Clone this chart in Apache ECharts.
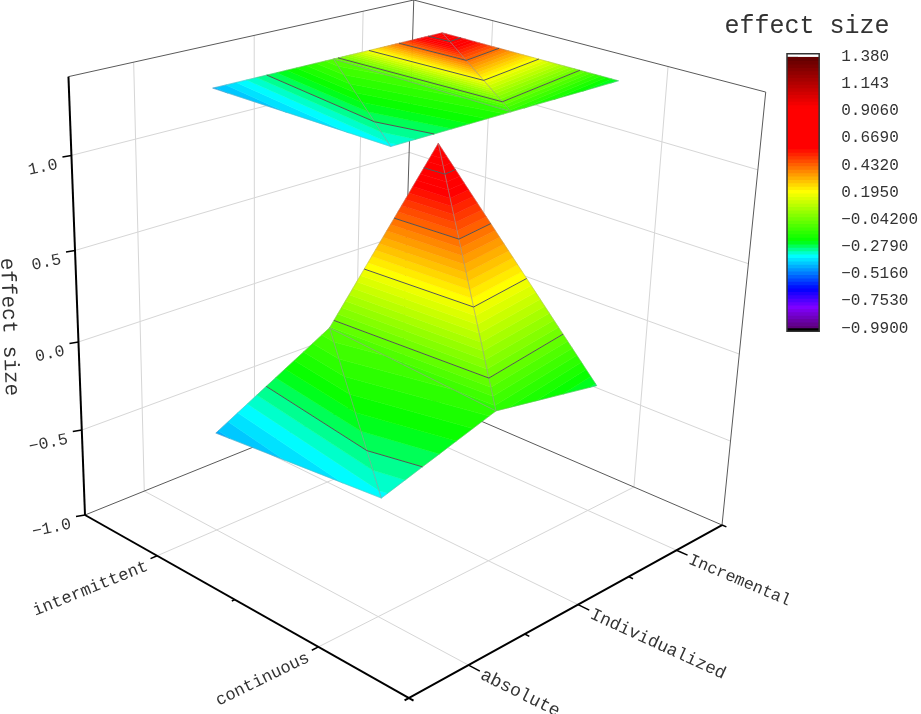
<!DOCTYPE html>
<html>
<head>
<meta charset="utf-8">
<title>effect size</title>
<script src="https://cdn.jsdelivr.net/npm/echarts@6/dist/echarts.min.js"></script>
<style>
  html, body { margin: 0; padding: 0; background: #fff; }
  #main { width: 921px; height: 714px; }
</style>
</head>
<body>
<div id="main"></div>
<script>
// chart data
const protocolLabels = ['intermittent', 'continuous'];
const loadLabels = ['absolute', 'Individualized', 'Incremental'];
const effectIntermittent = [-0.435, -0.076, 0.785];
const effectContinuous = [-0.349, -0.148, -0.258];
const zTicks = [-1.0, -0.5, 0.0, 0.5, 1.0];
const zTickLabels = ['\u22121.0', '\u22120.5', '0.0', '0.5', '1.0'];
const legendValues = [-0.99, -0.753, -0.516, -0.279, -0.042, 0.195, 0.432, 0.669, 0.906, 1.143, 1.38];
const legendLabels = ['\u22120.9900', '\u22120.7530', '\u22120.5160', '\u22120.2790', '\u22120.04200', '0.1950', '0.4320', '0.6690', '0.9060', '1.143', '1.380'];

// colour scale: value -> colour, filled in bands
const colorStopValues = [-0.99, -0.80, -0.64, -0.35, -0.22, 0.21, 0.59, 0.945, 1.38];
const colorStopColors = ['#5a0070', '#8000ff', '#0000ff', '#00ffff', '#00ff00', '#ffff00', '#ff0000', '#ff0000', '#600000'];
const BAND_STEP = 0.237 / 8;
const BAND_COUNT = 80;

const Z_MIN = -1.0, Z_MAX = 1.4;
const FONT = '"Liberation Mono", monospace';
const TEXT_COLOR = '#333';

// camera of the 3D box, fitted to the picture (a, b, c, 1 in unit cube)
const CAM = [
    [266.53, 377.28, -22.5, 85],
    [84.93, -69.97, -445.03, 515],
    [-0.1405, 0.1499, -0.087, 1]
];

function uToA(u) { return (u - 0.5) / 2; }      // u axis runs 0.5 .. 2.5
function vToB(v) { return (v - 0.5) / 3; }      // v axis runs 0.5 .. 3.5
function zToC(z) { return (z - Z_MIN) / (Z_MAX - Z_MIN); }

function project(a, b, c) {
    const w = CAM[2][0] * a + CAM[2][1] * b + CAM[2][2] * c + CAM[2][3];
    return [
        (CAM[0][0] * a + CAM[0][1] * b + CAM[0][2] * c + CAM[0][3]) / w,
        (CAM[1][0] * a + CAM[1][1] * b + CAM[1][2] * c + CAM[1][3]) / w
    ];
}

function hexToRgb(h) {
    return [parseInt(h.slice(1, 3), 16), parseInt(h.slice(3, 5), 16), parseInt(h.slice(5, 7), 16)];
}

function colorOf(z) {
    let i = 0;
    while (i < colorStopValues.length - 2 && z > colorStopValues[i + 1]) i++;
    const t = Math.max(0, Math.min(1, (z - colorStopValues[i]) / (colorStopValues[i + 1] - colorStopValues[i])));
    const c0 = hexToRgb(colorStopColors[i]);
    const c1 = hexToRgb(colorStopColors[i + 1]);
    return 'rgb(' + c0.map((v, k) => Math.round(v + (c1[k] - v) * t)).join(',') + ')';
}

// surface vertices and triangles (the TIN the original was drawn with)
const rows = [effectIntermittent, effectContinuous];
function vertex(i, j) {
    return { a: uToA(i + 1), b: vToB(j + 1), z: rows[i][j] };
}
const triangles = [
    [vertex(0, 0), vertex(1, 0), vertex(0, 1)],
    [vertex(0, 1), vertex(1, 0), vertex(1, 1)],
    [vertex(0, 1), vertex(1, 1), vertex(0, 2)],
    [vertex(0, 2), vertex(1, 1), vertex(1, 2)]
];

function mix(p, q, t) {
    return { a: p.a + (q.a - p.a) * t, b: p.b + (q.b - p.b) * t, z: p.z + (q.z - p.z) * t };
}

// Sutherland-Hodgman against one z level, keep = +1 above, -1 below
function clipZ(poly, level, keep) {
    const out = [];
    for (let i = 0; i < poly.length; i++) {
        const p = poly[i], q = poly[(i + 1) % poly.length];
        const dp = (p.z - level) * keep, dq = (q.z - level) * keep;
        if (dp >= 0) out.push(p);
        if (dp * dq < 0) out.push(mix(p, q, dp / (dp - dq)));
    }
    return out;
}

const polygons = [];
const lines = [];
const backLines = [];
const frontLines = [];
const labels = [];

function toScreen(p, onTop) {
    return project(p.a, p.b, onTop ? 1 : zToC(p.z));
}

// both the surface and its projection on the top of the box
[false, true].forEach(onTop => {
    triangles.forEach(tri => {
        for (let k = 0; k < BAND_COUNT; k++) {
            const lo = legendValues[0] + k * BAND_STEP;
            let poly = clipZ(tri, lo, 1);
            if (poly.length) poly = clipZ(poly, lo + BAND_STEP, -1);
            if (poly.length > 2) {
                polygons.push({ points: poly.map(p => toScreen(p, onTop)), color: colorOf(lo + BAND_STEP / 2) });
            }
        }
        // mesh edges
        for (let e = 0; e < 3; e++) {
            lines.push({
                from: toScreen(tri[e], onTop), to: toScreen(tri[(e + 1) % 3], onTop),
                color: 'rgba(150,150,150,0.5)', width: 0.7
            });
        }
    });
    // contour lines at the legend's major levels
    legendValues.forEach(level => {
        triangles.forEach(tri => {
            const cross = [];
            for (let e = 0; e < 3; e++) {
                const p = tri[e], q = tri[(e + 1) % 3];
                if ((p.z - level) * (q.z - level) < 0) cross.push(mix(p, q, (level - p.z) / (q.z - p.z)));
            }
            if (cross.length === 2) {
                lines.push({ from: toScreen(cross[0], onTop), to: toScreen(cross[1], onTop), color: '#555', width: 1 });
            }
        });
    });
});

// box: walls, floor grid, edges
function seg(list, p, q, color, width) {
    list.push({ from: project(p[0], p[1], p[2]), to: project(q[0], q[1], q[2]), color: color, width: width });
}
const GRID = '#d6d6d6', EDGE = '#5a5a5a';
protocolLabels.forEach((name, i) => {
    const a = uToA(i + 1);
    seg(backLines, [a, 0, 0], [a, 1, 0], GRID, 1);
    seg(backLines, [a, 1, 0], [a, 1, 1], GRID, 1);
});
loadLabels.forEach((name, j) => {
    const b = vToB(j + 1);
    seg(backLines, [0, b, 0], [1, b, 0], GRID, 1);
    seg(backLines, [0, b, 0], [0, b, 1], GRID, 1);
});
zTicks.slice(1).forEach(z => {
    const c = zToC(z);
    seg(backLines, [0, 0, c], [0, 1, c], GRID, 1);
    seg(backLines, [0, 1, c], [1, 1, c], GRID, 1);
});
seg(backLines, [0, 0, 0], [0, 1, 0], EDGE, 1);
seg(backLines, [0, 1, 0], [1, 1, 0], EDGE, 1);
seg(backLines, [0, 1, 0], [0, 1, 1], EDGE, 1);
seg(backLines, [0, 0, 1], [0, 1, 1], EDGE, 1);
seg(backLines, [0, 1, 1], [1, 1, 1], EDGE, 1);
seg(backLines, [1, 1, 0], [1, 1, 1], EDGE, 1);

// thick axes and ticks
seg(frontLines, [0, 0, 0], [1.012, 0, 0], '#000', 2);
seg(frontLines, [1, -0.012, 0], [1, 1, 0], '#000', 2);
seg(frontLines, [0, 0, 0], [0, 0, 1], '#000', 2);
seg(frontLines, [1, 1, 0], [1.012, 1, 0], '#000', 1.5);
[1, 1.5, 2].forEach(u => {
    seg(frontLines, [uToA(u), 0, 0], [uToA(u), u % 1 ? -0.008 : -0.018, 0], '#000', 1.5);
});
[1, 1.5, 2, 2.5, 3].forEach(v => {
    seg(frontLines, [1, vToB(v), 0], [v % 1 ? 1.012 : 1.03, vToB(v), 0], '#000', 1.5);
});
zTicks.forEach(z => {
    const p = project(0, 0, zToC(z));
    frontLines.push({ from: p, to: [p[0] - 9, p[1] + 1.5], color: '#000', width: 1.5 });
});

// axis texts, anchored on the projected ticks
zTicks.forEach((z, i) => {
    const p = project(0, 0, zToC(z));
    labels.push({ text: zTickLabels[i], x: p[0] - 14, y: p[1] + 9, rotate: 12, size: 16.5, align: 'right' });
});
const uLabelRot = [22, 26];
protocolLabels.forEach((name, i) => {
    const p = project(uToA(i + 1), 0, 0);
    labels.push({ text: name, x: p[0] - 10, y: p[1] + 10, rotate: uLabelRot[i], size: 17, align: 'right' });
});
const vLabelRot = [-26.5, -24.6, -23];
const vLabelSize = [18, 17.5, 16.5];
loadLabels.forEach((name, j) => {
    const p = project(1, vToB(j + 1), 0);
    labels.push({ text: name, x: p[0] + 13, y: p[1] + 9, rotate: vLabelRot[j], size: vLabelSize[j], align: 'left' });
});
labels.push({ text: 'effect size', x: 9, y: 327, rotate: -88, size: 21, align: 'center' });
labels.push({ text: 'effect size', x: 807, y: 26, rotate: 0, size: 25, align: 'center' });

function lineSeries(list, z) {
    return {
        type: 'custom', coordinateSystem: 'cartesian2d', xAxisIndex: 0, yAxisIndex: 0,
        silent: true, clip: false, z: z, animation: false,
        data: list.map((d, i) => [d.from[0], d.from[1], i]),
        renderItem: function (params, api) {
            const d = list[params.dataIndex];
            const p = api.coord(d.from), q = api.coord(d.to);
            return {
                type: 'line',
                shape: { x1: p[0], y1: p[1], x2: q[0], y2: q[1] },
                style: { stroke: d.color, lineWidth: d.width, fill: null }
            };
        }
    };
}

// colour bar bands in axis units of the legend
function legendIndex(v) {
    return (v - legendValues[0]) / (legendValues[1] - legendValues[0]);
}
const legendBands = [];
for (let k = 0; k < BAND_COUNT; k++) {
    const lo = legendValues[0] + k * BAND_STEP;
    legendBands.push([legendIndex(lo), legendIndex(lo + BAND_STEP), colorOf(lo + BAND_STEP / 2)]);
}

const option = {
    animation: false,
    backgroundColor: '#fff',
    grid: [
        { left: 0, top: 0, width: 921, height: 714 },
        { left: 787, top: 56.7, width: 40, height: 271.6 }
    ],
    xAxis: [
        { type: 'value', gridIndex: 0, min: 0, max: 921, show: false },
        { type: 'value', gridIndex: 1, min: 0, max: 1, show: false }
    ],
    yAxis: [
        { type: 'value', gridIndex: 0, min: 0, max: 714, inverse: true, show: false },
        {
            type: 'value', gridIndex: 1, min: 0, max: 10, interval: 1, position: 'right',
            splitLine: { show: false },
            axisLine: { show: false },
            axisTick: { show: true, length: 11, lineStyle: { color: '#444', width: 1.5 } },
            axisLabel: {
                show: true, margin: 22, color: TEXT_COLOR, fontFamily: FONT, fontSize: 16,
                showMinLabel: true, showMaxLabel: true,
                formatter: function (value) { return legendLabels[Math.round(value)]; }
            }
        }
    ],
    series: [
        lineSeries(backLines, 1),
        {
            type: 'custom', coordinateSystem: 'cartesian2d', xAxisIndex: 0, yAxisIndex: 0,
            silent: true, clip: false, z: 2,
            data: polygons.map((d, i) => [d.points[0][0], d.points[0][1], i]),
            renderItem: function (params, api) {
                const d = polygons[params.dataIndex];
                return {
                    type: 'polygon',
                    shape: { points: d.points.map(p => api.coord(p)) },
                    style: { fill: d.color, stroke: d.color, lineWidth: 0.5 }
                };
            }
        },
        lineSeries(lines, 3),
        lineSeries(frontLines, 4),
        {
            type: 'custom', coordinateSystem: 'cartesian2d', xAxisIndex: 0, yAxisIndex: 0,
            silent: true, clip: false, z: 5,
            data: labels.map((d, i) => [d.x, d.y, i]),
            renderItem: function (params, api) {
                const d = labels[params.dataIndex];
                const p = api.coord([d.x, d.y]);
                return {
                    type: 'text', x: p[0], y: p[1], rotation: d.rotate * Math.PI / 180,
                    style: {
                        text: d.text, fill: TEXT_COLOR, align: d.align, verticalAlign: 'middle',
                        font: d.size + 'px ' + FONT
                    }
                };
            }
        },
        {
            // colour bar, each band runs a little under the next so no seams show
            type: 'custom', coordinateSystem: 'cartesian2d', xAxisIndex: 1, yAxisIndex: 1,
            silent: true, clip: false, z: 2,
            data: legendBands.map((d, i) => [0, d[0], i]),
            renderItem: function (params, api) {
                const d = legendBands[params.dataIndex];
                const p = api.coord([0, d[1]]), q = api.coord([1, d[0]]);
                return {
                    type: 'rect',
                    shape: { x: p[0], y: p[1], width: q[0] - p[0], height: q[1] - p[1] + 1 },
                    style: { fill: d[2] }
                };
            }
        },
        {
            // colour bar frame, with the white cap and the black foot of the original
            type: 'custom', coordinateSystem: 'cartesian2d', xAxisIndex: 1, yAxisIndex: 1,
            silent: true, clip: false, z: 3,
            data: [[0, 0]],
            renderItem: function (params, api) {
                const top = api.coord([0, 10]), bottom = api.coord([1, 0]);
                return {
                    type: 'group',
                    children: [
                        { type: 'rect', shape: { x: top[0], y: top[1] - 3, width: bottom[0] - top[0], height: 3 }, style: { fill: '#fff' } },
                        { type: 'rect', shape: { x: top[0], y: bottom[1], width: bottom[0] - top[0], height: 3 }, style: { fill: '#000' } },
                        {
                            type: 'rect',
                            shape: { x: top[0], y: top[1] - 3, width: bottom[0] - top[0], height: bottom[1] - top[1] + 6 },
                            style: { fill: null, stroke: '#333', lineWidth: 1.5 }
                        }
                    ]
                };
            }
        }
    ]
};

var chartDom = document.getElementById('main');
var myChart = echarts.init(chartDom, null, { renderer: 'canvas' });
myChart.setOption(option);
</script>
</body>
</html>
